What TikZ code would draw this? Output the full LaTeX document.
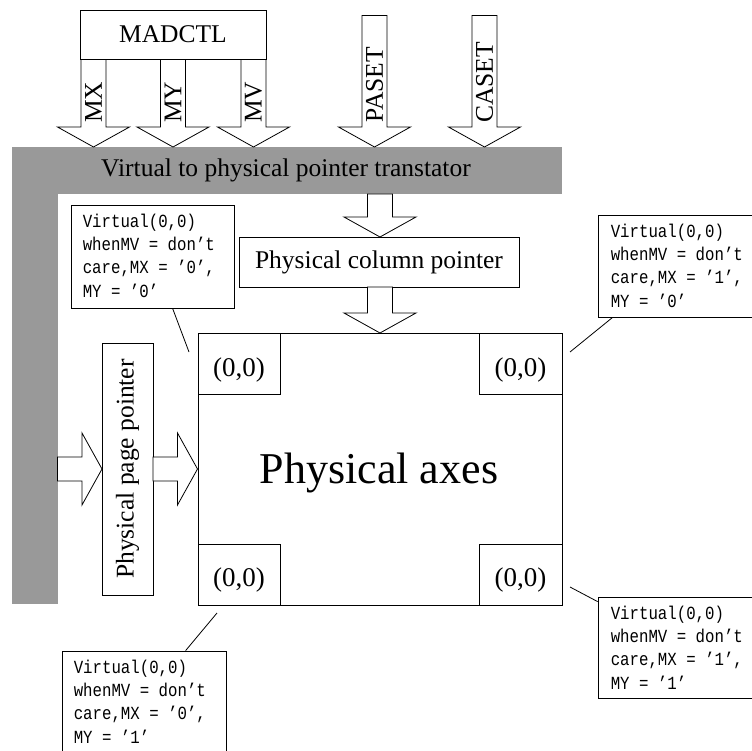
\documentclass[tikz,border=0pt]{standalone}
\usepackage{fontspec}
\setmainfont{Liberation Serif}
\newfontfamily\calloutmono[FakeStretch=0.85]{Liberation Mono}
\usetikzlibrary{calc}
\definecolor{bargray}{RGB}{153,153,153}
\tikzset{
  box/.style={draw, line width=0.8pt, fill=white, inner sep=0pt},
  blockstyle/.style={draw, line width=0.8pt, fill=white},
  graypart/.style={fill=bargray, draw=none, inner sep=0pt},
  calltext/.style={anchor=north west, align=left, inner sep=0pt,
    font=\calloutmono\fontsize{18.5}{23.3}\selectfont},
  leader/.style={line width=0.8pt},
  vlabel/.style={rotate=90, anchor=west, inner sep=0pt},
  cornertext/.style={anchor=base, inner sep=0pt, font=\fontsize{27}{30}\selectfont}
}
\newcommand{\downblock}[2]{\draw[blockstyle] let \p1=(#1), \p2=(#2) in
  (\x1-12.5,\y1) -- (\x1-12.5,\y2+20) -- (\x1-36,\y2+20) -- (\x1,\y2) --
  (\x1+36,\y2+20) -- (\x1+12.5,\y2+20) -- (\x1+12.5,\y1) -- cycle;}
\newcommand{\rightblock}[2]{\draw[blockstyle] let \p1=(#1), \p2=(#2) in
  (\x1,\y1-12) -- (\x2-20,\y1-12) -- (\x2-20,\y1-36) -- (\x2,\y1) --
  (\x2-20,\y1+36) -- (\x2-20,\y1+12) -- (\x1,\y1+12) -- cycle;}
\begin{document}
\begin{tikzpicture}[x=1pt, y=1pt, font=\fontsize{25.5}{30}\selectfont]
\useasboundingbox (0,0) rectangle (752,-751);

% gray L-shaped translator
\node[graypart, minimum width=550, minimum height=47] (vtp) at (287,-170.5) {};
\node[graypart, minimum width=46, minimum height=457] (vbar) at (35,-375.5) {};
\node[anchor=base, inner sep=0pt] (vtptext) at (286,-177) {Virtual to physical pointer transtator};

% input arrows
\coordinate (mxs) at (93.5,-59);   \coordinate (mxe) at (93.5,-147);
\coordinate (mys) at (173,-59);    \coordinate (mye) at (173,-147);
\coordinate (mvs) at (253.5,-59);  \coordinate (mve) at (253.5,-147);
\coordinate (pas) at (374.5,-15.5);\coordinate (pae) at (374.5,-147);
\coordinate (cas) at (484.5,-15.5);\coordinate (cae) at (484.5,-147);
\downblock{mxs}{mxe}
\downblock{mys}{mye}
\downblock{mvs}{mve}
\downblock{pas}{pae}
\downblock{cas}{cae}
\node[box, minimum width=186, minimum height=49] (madctl) at (173,-34.5) {MADCTL};
\node[vlabel] (mxl) at (93.5,-123) {MX};
\node[vlabel] (myl) at (173,-123) {MY};
\node[vlabel] (mvl) at (253.5,-123) {MV};
\node[vlabel] (pal) at (374.5,-123) {PASET};
\node[vlabel] (cal) at (484.5,-123) {CASET};

% column pointer
\node[box, minimum width=280, minimum height=50] (colptr) at (379,-262) {Physical column pointer};
\coordinate (c1s) at (380,-194); \coordinate (c1e) at (380,-237);
\coordinate (c2s) at (380,-287); \coordinate (c2e) at (380,-333);
\downblock{c1s}{c1e}
\downblock{c2s}{c2e}

% physical axes
\node[box, minimum width=364, minimum height=272] (axes) at (380,-469) {};
\node[anchor=base, inner sep=0pt, font=\fontsize{44}{50}\selectfont] (axestext) at (379,-483) {Physical axes};
\node[box, minimum width=82, minimum height=61] (ctl) at (239,-363.5) {};
\node[box, minimum width=83, minimum height=61] (ctr) at (520.5,-363.5) {};
\node[box, minimum width=82, minimum height=61] (cbl) at (239,-574.5) {};
\node[box, minimum width=83, minimum height=61] (cbr) at (520.5,-574.5) {};
\node[cornertext] at ([yshift=-13pt]ctl.center) {(0,0)};
\node[cornertext] at ([yshift=-13pt]ctr.center) {(0,0)};
\node[cornertext] at ([yshift=-12pt]cbl.center) {(0,0)};
\node[cornertext] at ([yshift=-12pt]cbr.center) {(0,0)};

% page pointer
\node[box, minimum width=51, minimum height=252] (pageptr) at (127.5,-469) {};
\node[rotate=90, inner sep=0pt] (pagetext) at (pageptr.center) {Physical page pointer};
\coordinate (p1s) at (57.5,-469); \coordinate (p1e) at (102,-469);
\coordinate (p2s) at (153,-469);  \coordinate (p2e) at (197.5,-469);
\rightblock{p1s}{p1e}
\rightblock{p2s}{p2e}

% callouts
\node[box, minimum width=163, minimum height=103] (cTL) at (152.5,-256.5) {};
\node[calltext] at ([xshift=12pt,yshift=-9pt]cTL.north west) {Virtual(0,0)\\whenMV = don’t\\care,MX = ’0’,\\MY = ’0’};
\node[box, minimum width=164, minimum height=102] (cTR) at (680,-266) {};
\node[calltext] at ([xshift=13pt,yshift=-9pt]cTR.north west) {Virtual(0,0)\\whenMV = don’t\\care,MX = ’1’,\\MY = ’0’};
\node[box, minimum width=164, minimum height=106] (cBL) at (144,-704) {};
\node[calltext] at ([xshift=12pt,yshift=-9pt]cBL.north west) {Virtual(0,0)\\whenMV = don’t\\care,MX = ’0’,\\MY = ’1’};
\node[box, minimum width=164, minimum height=101] (cBR) at (680,-647.5) {};
\node[calltext] at ([xshift=13pt,yshift=-9pt]cBR.north west) {Virtual(0,0)\\whenMV = don’t\\care,MX = ’1’,\\MY = ’1’};

\coordinate (tTL) at (189,-352);
\coordinate (tTR) at (570,-352);
\coordinate (tBL) at (217,-613);
\coordinate (tBR) at (570,-587);
\draw[leader] ([xshift=102pt]cTL.south west) -- (tTL);
\draw[leader] ([xshift=15pt]cTR.south west) -- (tTR);
\draw[leader] ([xshift=124pt]cBL.north west) -- (tBL);
\draw[leader] ([yshift=-5pt]cBR.north west) -- (tBR);
\end{tikzpicture}
\end{document}
